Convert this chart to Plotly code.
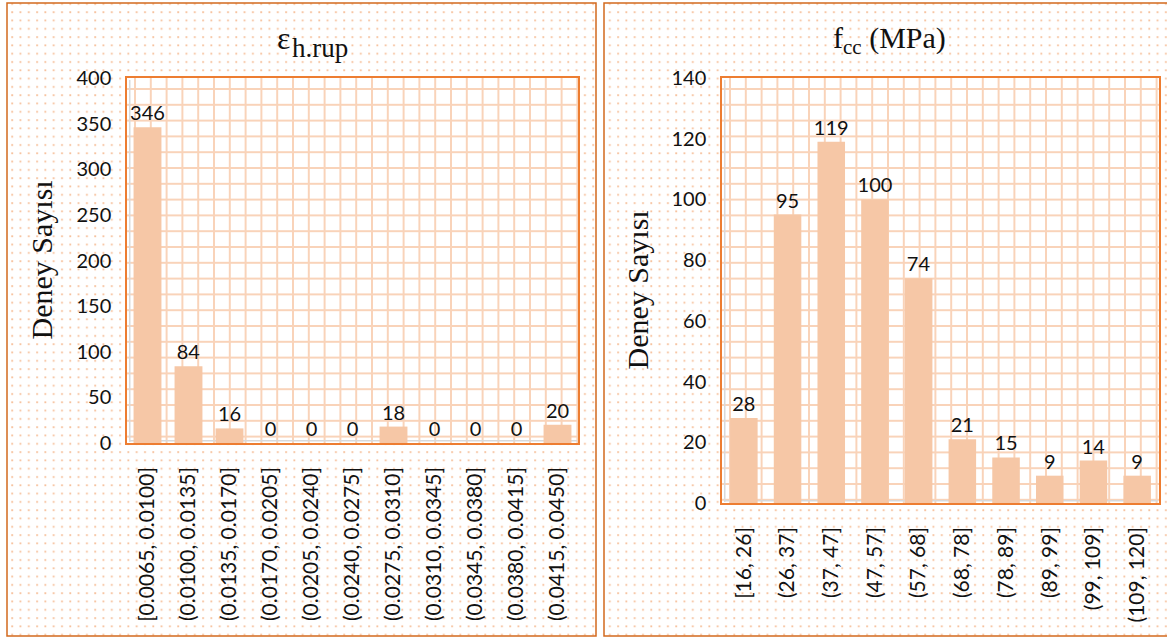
import base64
import plotly.graph_objects as go

W, H = 1167, 640

# ---------------- data ----------------
eps_categories = ["[0.0065, 0.0100]", "(0.0100, 0.0135]", "(0.0135, 0.0170]",
                  "(0.0170, 0.0205]", "(0.0205, 0.0240]", "(0.0240, 0.0275]",
                  "(0.0275, 0.0310]", "(0.0310, 0.0345]", "(0.0345, 0.0380]",
                  "(0.0380, 0.0415]", "(0.0415, 0.0450]"]
eps_counts = [346, 84, 16, 0, 0, 0, 18, 0, 0, 0, 20]
eps_yticks = [0, 50, 100, 150, 200, 250, 300, 350, 400]

fcc_categories = ["[16, 26]", "(26, 37]", "(37, 47]", "(47, 57]", "(57, 68]",
                  "(68, 78]", "(78, 89]", "(89, 99]", "(99, 109]", "(109, 120]"]
fcc_counts = [28, 95, 119, 100, 74, 21, 15, 9, 14, 9]
fcc_yticks = [0, 20, 40, 60, 80, 100, 120, 140]

y_title = "Deney Sayısı"

# ---------------- styling ----------------
BAR = "#f6c7a6"
GRID = "#f9d3b9"
DOT = "#f6bf99"
AXGRAY = "#d9d9d9"
PLOT_BORDER = "#ed7d31"
PANEL_BORDER = "#d2691e"
TXT = "#111111"
TICKFONT = dict(family="Lato", size=20, color=TXT)
XTICKFONT = dict(family="Lato", size=21, color=TXT)
SERIF = "Liberation Serif"
PITCH = 15.8


def fx(px):
    return px / W


def fy(py):
    return 1 - py / H


# plot areas in pixels (left, right, top, bottom)
LP = (127, 578, 78, 443)
RP = (722, 1159, 78, 503)
# panels in pixels (left, right, top, bottom)
LPANEL = (7, 596, 3, 636)
RPANEL = (604, 1180, 3, 636)

fig = go.Figure()

fig.add_trace(go.Bar(
    x=eps_categories, y=eps_counts, xaxis="x", yaxis="y",
    marker=dict(color=BAR, line=dict(width=0)), width=0.68,
    text=[str(v) for v in eps_counts], textposition="outside",
    textfont=TICKFONT, constraintext="none", cliponaxis=False,
    showlegend=False, hoverinfo="skip"))

fig.add_trace(go.Bar(
    x=fcc_categories, y=fcc_counts, xaxis="x2", yaxis="y2",
    marker=dict(color=BAR, line=dict(width=0)), width=0.63,
    text=[str(v) for v in fcc_counts], textposition="outside",
    textfont=TICKFONT, constraintext="none", cliponaxis=False,
    showlegend=False, hoverinfo="skip"))


def x_axis(area, anchor, ncat):
    l, r, t, b = area
    return dict(domain=[fx(l), fx(r)], anchor=anchor, type="category",
                range=[-0.5, ncat - 0.5], showgrid=False, zeroline=False,
                showline=True, linecolor=PLOT_BORDER, linewidth=1.5, mirror=True,
                ticks="", tickangle=-90, tickfont=XTICKFONT, automargin=False,
                ticklabelstandoff=14, fixedrange=True)


def y_axis(area, anchor, ymax, vals):
    l, r, t, b = area
    return dict(domain=[fy(b), fy(t)], anchor=anchor, range=[0, ymax],
                tickvals=vals, showgrid=False, zeroline=False,
                showline=True, linecolor=PLOT_BORDER, linewidth=1.5, mirror=True,
                ticks="", tickfont=TICKFONT, ticklabelstandoff=10,
                automargin=False, fixedrange=True)


def grid_pattern(pid, first_x, first_y):
    p = PITCH
    return (f'<pattern id="{pid}" width="{p}" height="{p}" patternUnits="userSpaceOnUse" '
            f'x="{first_x - p / 2}" y="{first_y - p / 2}">'
            f'<rect x="{p / 2 - 1}" y="0" width="2" height="{p}" fill="{GRID}"/>'
            f'<rect x="0" y="{p / 2 - 1}" width="{p}" height="2" fill="{GRID}"/>'
            f'</pattern>')


def rect(area, fill):
    l, r, t, b = area
    return f'<rect x="{l}" y="{t}" width="{r - l}" height="{b - t}" fill="{fill}"/>'


def inner_axis_lines(area):
    l, r, t, b = area
    return (f'<rect x="{l + 2}" y="{t + 2}" width="1.5" height="{b - t - 3}" fill="{AXGRAY}"/>'
            f'<rect x="{l + 2}" y="{b - 3}" width="{r - l - 3}" height="1.5" fill="{AXGRAY}"/>')


# background decoration: dotted panel fill, white plot areas with grid pattern
svg = (f'<svg xmlns="http://www.w3.org/2000/svg" width="{W}" height="{H}" '
       f'viewBox="0 0 {W} {H}"><defs>'
       f'<pattern id="d" width="8.3" height="8.3" patternUnits="userSpaceOnUse">'
       f'<rect x="3" y="3" width="1.8" height="1.8" fill="{DOT}"/></pattern>'
       + grid_pattern("g1", LP[0] + 8, LP[2] + 11)
       + grid_pattern("g2", RP[0] + 8, RP[2] + 11)
       + '</defs>'
       + rect(LPANEL, "url(#d)") + rect(RPANEL, "url(#d)")
       + rect(LP, "white") + rect(RP, "white")
       + rect(LP, "url(#g1)") + rect(RP, "url(#g2)")
       + inner_axis_lines(LP) + inner_axis_lines(RP)
       + '</svg>')
svg_uri = "data:image/svg+xml;base64," + base64.b64encode(svg.encode()).decode()

annotations = [
    dict(text="ε", x=fx(292), y=fy(38), xanchor="right", yanchor="middle",
         font=dict(family=SERIF, size=32, color=TXT)),
    dict(text="h.rup", x=fx(290), y=fy(48), xanchor="left", yanchor="middle",
         font=dict(family=SERIF, size=27, color=TXT)),
    dict(text="f<sub>cc</sub> (MPa)", x=fx(889), y=fy(40), xanchor="center",
         yanchor="middle", font=dict(family=SERIF, size=30, color=TXT)),
    dict(text=y_title, x=fx(41), y=fy((LP[2] + LP[3]) / 2), textangle=-90,
         xanchor="center", yanchor="middle",
         font=dict(family=SERIF, size=30, color=TXT)),
    dict(text=y_title, x=fx(637), y=fy((RP[2] + RP[3]) / 2), textangle=-90,
         xanchor="center", yanchor="middle",
         font=dict(family=SERIF, size=30, color=TXT)),
]
for a in annotations:
    a.update(xref="paper", yref="paper", showarrow=False)

shapes = []
for pan in (LPANEL, RPANEL):
    shapes.append(dict(type="rect", xref="paper", yref="paper",
                       x0=fx(pan[0]), x1=fx(pan[1]), y0=fy(pan[3]), y1=fy(pan[2]),
                       line=dict(color=PANEL_BORDER, width=1.5), layer="above"))

fig.update_layout(
    template="none",
    width=W, height=H, autosize=False,
    margin=dict(l=0, r=0, t=0, b=0, pad=0, autoexpand=False),
    paper_bgcolor="white", plot_bgcolor="rgba(0,0,0,0)",
    xaxis=x_axis(LP, "y", len(eps_categories)),
    yaxis=y_axis(LP, "x", 400, eps_yticks),
    xaxis2=x_axis(RP, "y2", len(fcc_categories)),
    yaxis2=y_axis(RP, "x2", 140, fcc_yticks),
    images=[dict(source=svg_uri, xref="paper", yref="paper", x=0, y=1,
                 sizex=1, sizey=1, xanchor="left", yanchor="top",
                 sizing="stretch", layer="below")],
    annotations=annotations,
    shapes=shapes,
    showlegend=False,
)

fig.write_html("out.html", config={"displayModeBar": False},
               post_script="document.body.style.margin='0';document.body.style.overflow='hidden';")
